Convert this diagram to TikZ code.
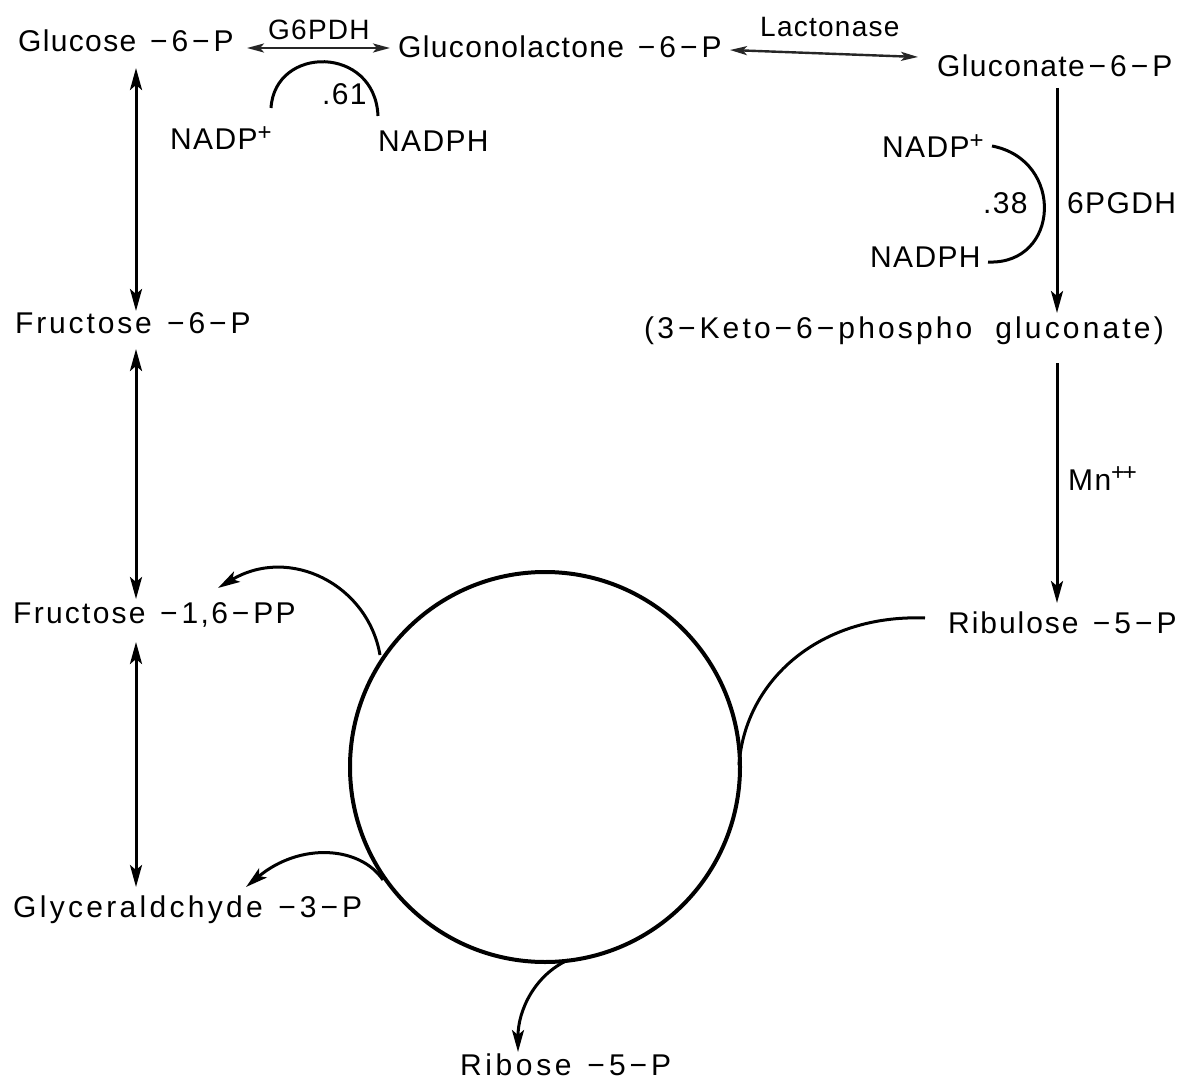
\documentclass[tikz,border=0pt]{standalone}
\usepackage{fontspec}
\setmainfont{Liberation Sans}[LetterSpace=4.5]
\usetikzlibrary{arrows.meta}
\newcommand\mn{\kern4pt−\kern4pt}
\newcommand\supplus{\textsuperscript{\fontsize{24}{24}\selectfont +}}
\begin{document}
\begin{tikzpicture}[x=1pt,y=-1pt,
  lbl/.style={anchor=base west,inner sep=0pt,font=\fontsize{30}{36}\selectfont},
  wide/.style={font=\fontsize{30}{36}\selectfont\addfontfeature{LetterSpace=#1}},
  enz/.style={anchor=base west,inner sep=0pt,font=\fontsize{28}{32}\selectfont},
  vline/.style={line width=3pt},
  tipv/.style={-{Stealth[length=22pt,width=12pt,inset=5pt]}},
  tipvv/.style={{Stealth[length=22pt,width=12pt,inset=5pt]}-{Stealth[length=22pt,width=12pt,inset=5pt]}},
  tiph/.style={line width=2.4pt,draw=black!85,{Stealth[length=17pt,width=9pt,inset=4pt]}-{Stealth[length=17pt,width=9pt,inset=4pt]}},
  crv/.style={line width=3pt},
  ring/.style={line width=4pt}]
\useasboundingbox[fill=white] (0,0) rectangle (1192,1089);

% metabolite labels
\node[lbl] (g6p)   at (18,52)   {Glucose \mn6\mn P};
\node[lbl] (gl6p)  at (398,58)  {Gluconolactone \mn6\mn P};
\node[lbl] (gn6p)  at (937,77)  {Gluconate\mn6\mn P};
\node[lbl,wide=9.5] (f6p)   at (15,333)  {Fructose \mn6\mn P};
\node[lbl,wide=10.5] (keto)  at (644,338) {(3\mn Keto\mn6\mn phospho\ \ gluconate)};
\node[lbl,wide=7.5] (f16)   at (13,623)  {Fructose \mn1,6\mn PP};
\node[lbl,wide=11] (gly)   at (13,917)  {Glyceraldchyde \mn3\mn P};
\node[lbl,wide=12] (rib)   at (460,1075){Ribose \mn5\mn P};
\node[lbl,wide=6.5] (rbl)   at (948,633) {Ribulose \mn5\mn P};

% cofactors and enzymes
\node[lbl] (nadpA)  at (170,150) {NADP\supplus};
\node[lbl] (nadphA) at (378,152) {NADPH};
\node[lbl] (v61)    at (322,105) {.61};
\node[lbl] (nadpB)  at (882,158) {NADP\supplus};
\node[lbl] (nadphB) at (870,267) {NADPH};
\node[lbl] (v38)    at (983,213) {.38};
\node[lbl] (pgdh)   at (1067,213){6PGDH};
\node[lbl] (mnion)  at (1068,490){Mn\supplus\kern-3pt\supplus};
\node[enz] (g6pdh)  at (268,40)  {G6PDH};
\node[enz] (lact)   at (760,37)  {Lactonase};

% horizontal reactions
\coordinate (h1a) at (247,48);  \coordinate (h1b) at (390,48);
\coordinate (h2a) at (730,50);  \coordinate (h2b) at (918,57);
\draw[tiph] (h1a) -- (h1b);
\draw[tiph] (h2a) -- (h2b);

% left vertical column
\coordinate (l1a) at (136,68);  \coordinate (l1b) at (136,311);
\coordinate (l2a) at (136,349); \coordinate (l2b) at (136,599);
\coordinate (l3a) at (136,642); \coordinate (l3b) at (136,887);
\draw[vline,tipvv] (l1a) -- (l1b);
\draw[vline,tipvv] (l2a) -- (l2b);
\draw[vline,tipvv] (l3a) -- (l3b);

% right vertical column
\coordinate (r1a) at (1057,88);  \coordinate (r1b) at (1057,313);
\coordinate (r2a) at (1057,363); \coordinate (r2b) at (1057,603);
\draw[vline,tipv] (r1a) -- (r1b);
\draw[vline,tipv] (r2a) -- (r2b);

% cofactor arcs
\coordinate (a1s) at (271,108); \coordinate (a1e) at (378,116);
\draw[crv] (a1s) .. controls (275,45) and (375,45) .. (a1e);
\coordinate (a2s) at (992,146); \coordinate (a2e) at (988,262);
\draw[crv] (a2s) .. controls (1065,160) and (1060,265) .. (a2e);

% the cycle
\node[circle,draw,ring,minimum size=390pt,inner sep=0pt] (cyc) at (545,767) {};

% branches from the cycle
\coordinate (c1) at (380,655); \coordinate (c1e) at (218,588);
\draw[crv,tipv] (c1) .. controls (368,585) and (290,545) .. (c1e);
\coordinate (c2) at (383,880); \coordinate (c2e) at (246,887);
\draw[crv,tipv] (c2) .. controls (360,846) and (300,842) .. (c2e);
\coordinate (c3) at (568,960); \coordinate (c3e) at (518,1052);
\draw[crv,tipv] (c3) .. controls (535,975) and (518,1010) .. (c3e);
\coordinate (c4) at (925,618); \coordinate (c4e) at (739,765);
\draw[crv] (c4) .. controls (820,614) and (745,680) .. (c4e);
\end{tikzpicture}
\end{document}
